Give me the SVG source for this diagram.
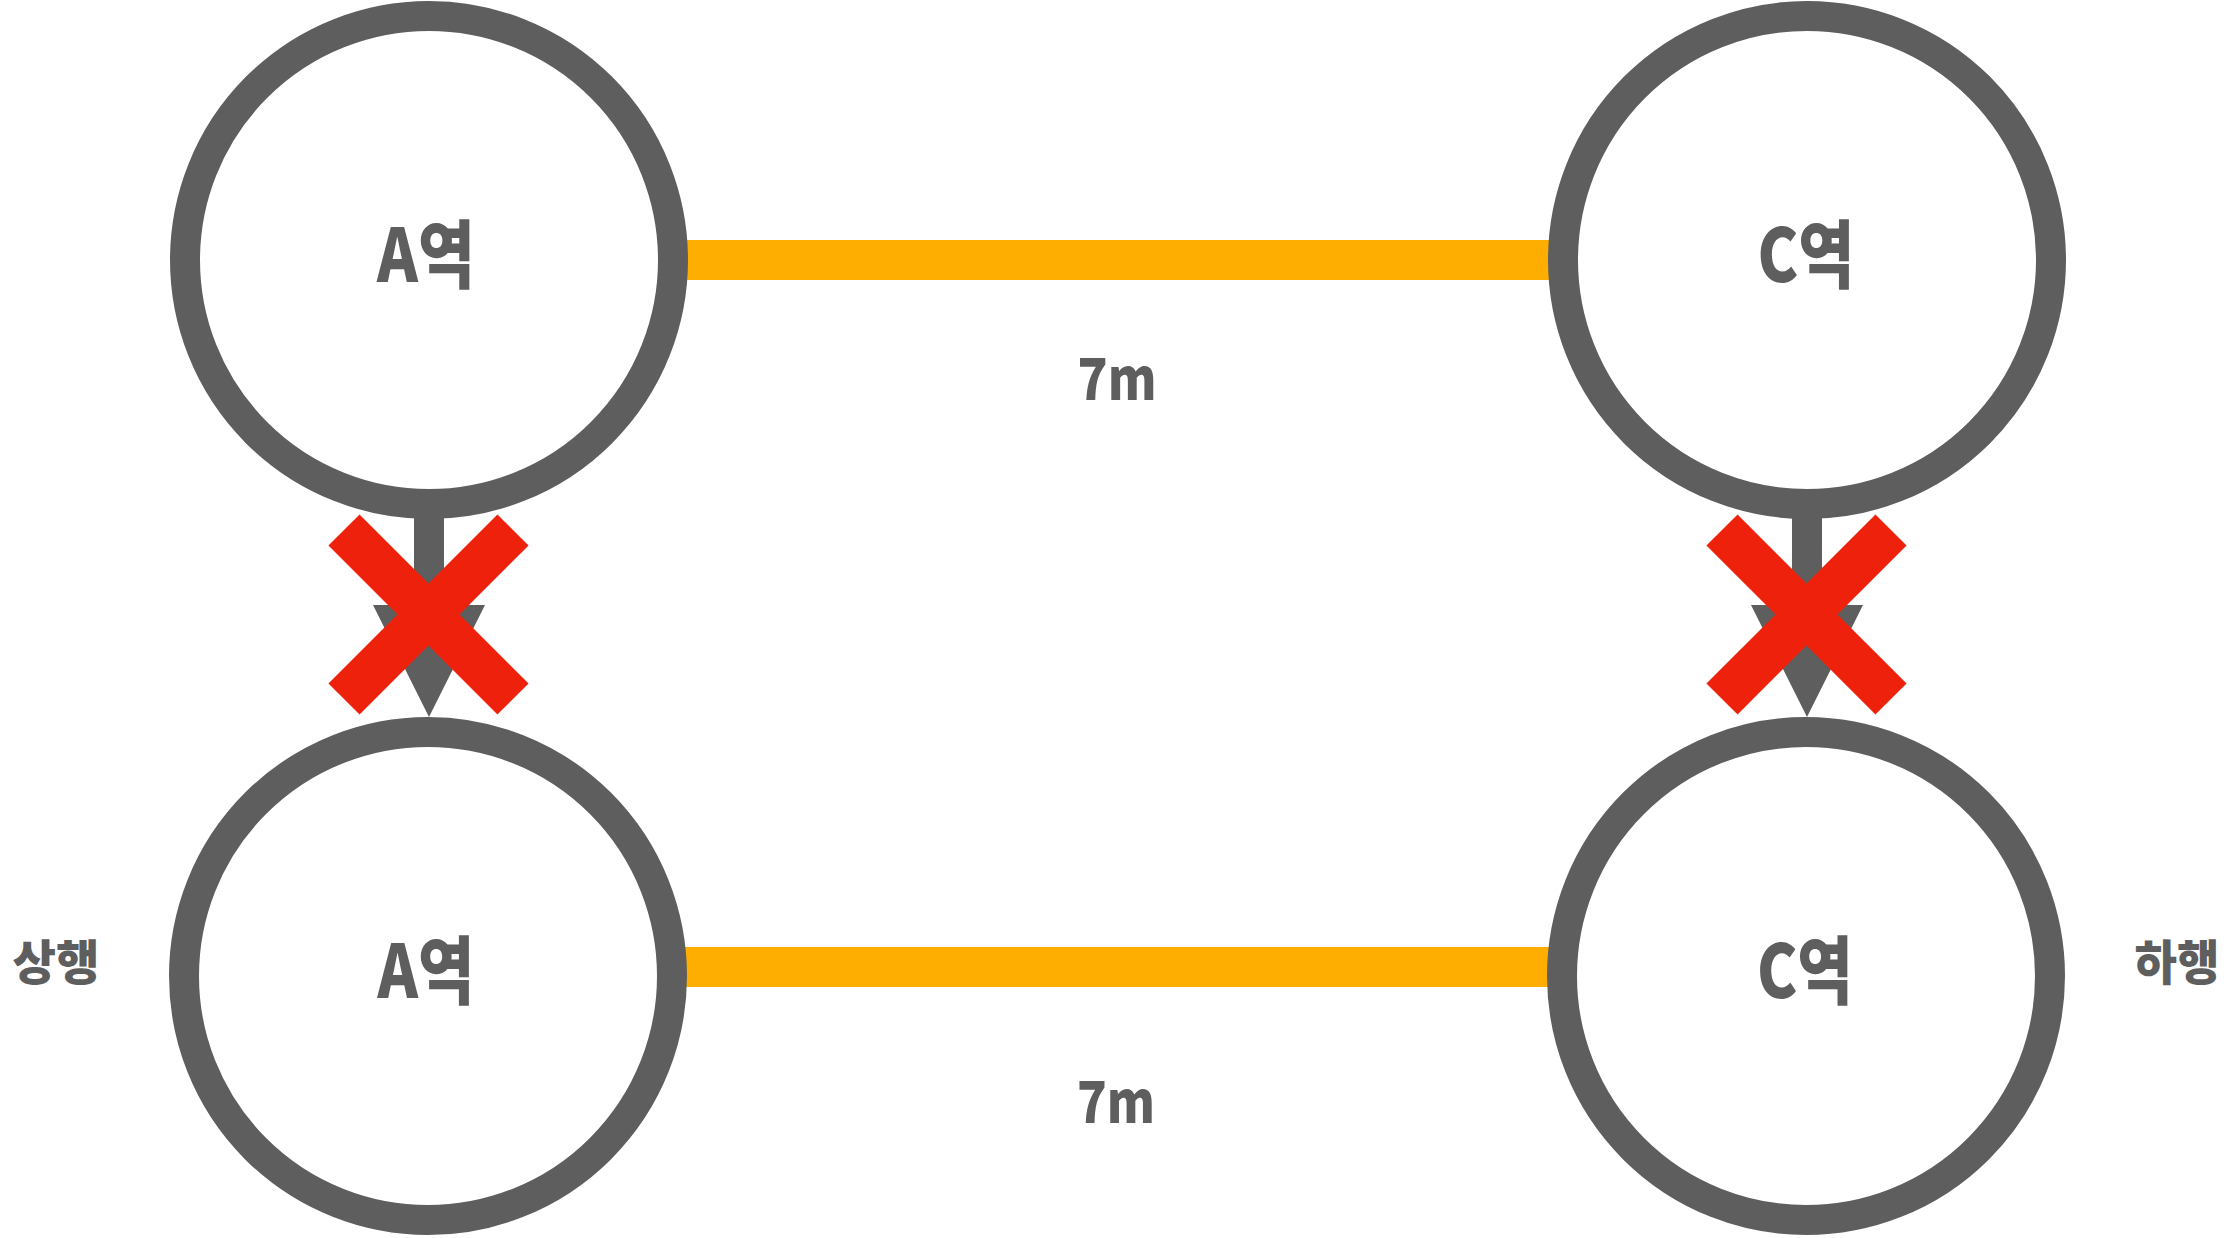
<svg xmlns="http://www.w3.org/2000/svg" width="2234" height="1238" viewBox="0 0 2234 1238">
<style>
.st{fill:#ffffff;stroke:#5e5e5e;stroke-width:30}
.lbl{font-family:"Noto Sans CJK KR","Noto Sans",sans-serif;font-weight:900;fill:#5e5e5e}
.track{stroke:#feae00;stroke-width:40;fill:none}
.shaft{fill:#5e5e5e}
.xm{stroke:#ee220c;stroke-width:44;stroke-linecap:butt;fill:none}
</style>
<rect width="2234" height="1238" fill="#ffffff"/>
<g id="connectors">
<line class="track" x1="680" y1="260" x2="1556" y2="260"/>
<line class="track" x1="680" y1="967" x2="1556" y2="967"/>
<g id="arrow-left">
<rect class="shaft" x="414" y="515" width="30" height="92"/>
<polygon class="shaft" points="373,605 485,605 429,717"/>
</g>
<g id="arrow-right">
<rect class="shaft" x="1792" y="515" width="30" height="92"/>
<polygon class="shaft" points="1751,605 1863,605 1807,717"/>
</g>
</g>
<g id="node-a-top">
<circle class="st" cx="429" cy="260" r="244"/>
<text class="lbl" x="426" y="282" font-size="74" text-anchor="middle" textLength="98" lengthAdjust="spacingAndGlyphs">A역</text>
</g>
<g id="node-c-top">
<circle class="st" cx="1807" cy="260" r="244"/>
<text class="lbl" x="1806" y="282" font-size="74" text-anchor="middle" textLength="97" lengthAdjust="spacingAndGlyphs">C역</text>
</g>
<g id="node-a-bottom">
<circle class="st" cx="428" cy="976" r="244"/>
<text class="lbl" x="426" y="998" font-size="74" text-anchor="middle" textLength="97" lengthAdjust="spacingAndGlyphs">A역</text>
</g>
<g id="node-c-bottom">
<circle class="st" cx="1806" cy="976" r="244"/>
<text class="lbl" x="1805" y="998" font-size="74" text-anchor="middle" textLength="96" lengthAdjust="spacingAndGlyphs">C역</text>
</g>
<g id="blocked">
<line class="xm" x1="344" y1="530" x2="513" y2="699"/>
<line class="xm" x1="513" y1="530" x2="344" y2="699"/>
<line class="xm" x1="1722" y1="530" x2="1891" y2="699"/>
<line class="xm" x1="1891" y1="530" x2="1722" y2="699"/>
</g>
<g id="labels">
<text class="lbl" x="1117" y="400" font-size="58" text-anchor="middle" textLength="79" lengthAdjust="spacingAndGlyphs">7m</text>
<text class="lbl" x="1116" y="1123" font-size="58" text-anchor="middle" textLength="78" lengthAdjust="spacingAndGlyphs">7m</text>
<text class="lbl" x="56" y="980" font-size="48" text-anchor="middle" textLength="87" lengthAdjust="spacingAndGlyphs">상행</text>
<text class="lbl" x="2177" y="980" font-size="48" text-anchor="middle" textLength="85" lengthAdjust="spacingAndGlyphs">하행</text>
</g>
</svg>
